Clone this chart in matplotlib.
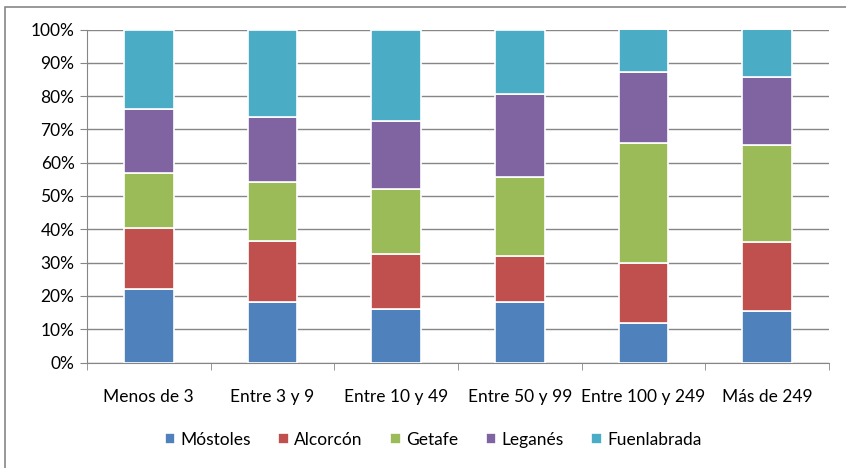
import numpy as np
import matplotlib.pyplot as plt
from matplotlib.patches import Rectangle

categories = ["Menos de 3", "Entre 3 y 9", "Entre 10 y 49", "Entre 50 y 99", "Entre 100 y 249", "Más de 249"]
series_names = ["Móstoles", "Alcorcón", "Getafe", "Leganés", "Fuenlabrada"]
mostoles = [22.1, 18.3, 16.1, 18.3, 12.0, 15.6]
alcorcon = [18.2, 18.2, 16.5, 13.7, 17.8, 20.5]
getafe = [16.5, 17.7, 19.4, 23.8, 36.2, 29.1]
leganes = [19.3, 19.6, 20.6, 24.7, 21.3, 20.5]
fuenlabrada = [23.9, 26.2, 27.4, 19.5, 12.7, 14.3]
colors = ["#4F81BD", "#C0504D", "#9BBB59", "#8064A2", "#4BACC6"]

plt.rcParams['font.family'] = ['Lato', 'DejaVu Sans']

data = np.array([mostoles, alcorcon, getafe, leganes, fuenlabrada])
data = data / data.sum(axis=0) * 100

fig = plt.figure(figsize=(8.46, 4.68), dpi=100)
ax = fig.add_axes([87 / 846, 1 - 362.5 / 468, (829 - 87) / 846, 333 / 468])

x = np.arange(len(categories))
bottom = np.zeros(len(categories))
for name, vals, c in zip(series_names, data, colors):
    ax.bar(x, vals, 0.4, bottom=bottom, color=c, edgecolor="white", linewidth=1.2, label=name, zorder=3)
    bottom += vals

fs = 12.5
ax.set_xlim(-0.5, len(categories) - 0.5)
ax.set_ylim(0, 100)
ax.set_yticks(np.arange(0, 101, 10))
ax.set_yticklabels([f"{v}%" for v in range(0, 101, 10)], fontsize=fs)
ax.set_xticks(x)
ax.set_xticklabels(categories, fontsize=fs)
ax.tick_params(axis="x", length=0, pad=19)
ax.tick_params(axis="y", length=5, color="#868686", pad=4)
ax.set_xticks(np.arange(-0.5, len(categories)), minor=True)
ax.tick_params(axis="x", which="minor", length=5, color="#868686")
ax.yaxis.grid(True, color="#868686", linewidth=1, zorder=0)
for s in ["top", "right"]:
    ax.spines[s].set_visible(False)
ax.spines["left"].set_color("#868686")
ax.spines["bottom"].set_color("#868686")

fig.legend(loc="center", bbox_to_anchor=(433 / 846, 1 - 440 / 468), ncol=5, frameon=False,
           fontsize=fs, handlelength=0.6, handleheight=0.6, handletextpad=0.3, columnspacing=1.6)

fig.patches.append(Rectangle((5 / 846, -0.05), 1.0, 1.05 - 7 / 468, transform=fig.transFigure,
                             fill=False, edgecolor="#868686", linewidth=1.2))

fig.savefig("out.png", dpi=100)
